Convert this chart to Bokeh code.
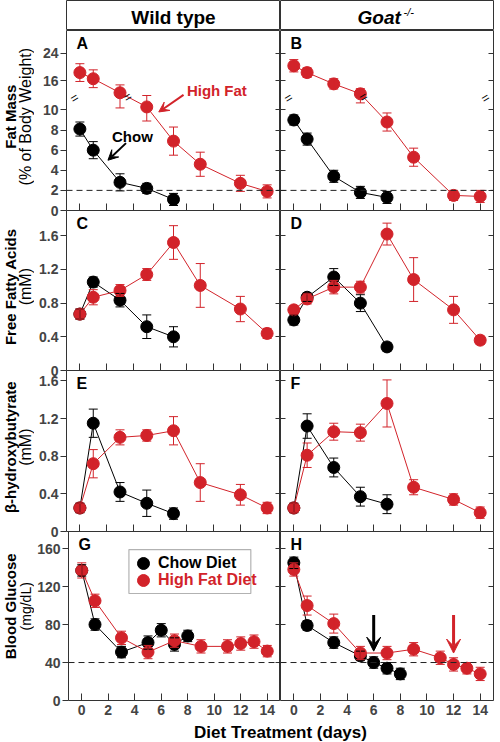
import numpy as np
from bokeh.plotting import figure
from bokeh.layouts import column, row
from bokeh.models import (Range1d, FixedTicker, LinearAxis, Whisker, TeeHead, ColumnDataSource,
                          Span, Label, Arrow, VeeHead, Legend, LegendItem, BoxAnnotation)
from bokeh.embed import file_html
from bokeh.resources import INLINE

FONT = "Liberation Sans"
RED = "#d2232a"
BLACK = "#000000"
FRAME = "#333333"

# ------------------------------------------------------------------ data
chow_days = [0, 1, 3, 5, 7]
hf_days = [0, 1, 3, 5, 7, 9, 12, 14]
glu_chow_days = [0, 1, 3, 5, 6, 7, 8]
glu_hf_days = [0, 1, 3, 5, 7, 9, 11, 12, 13, 14]

# Fat mass (% of body weight)
wt_fat_chow = [8.1, 6.0, 2.8, 2.2, 1.1]
wt_fat_chow_err = [0.7, 0.85, 0.85, 0.5, 0.6]
wt_fat_hf = [18.4, 16.6, 12.5, 10.3, 6.9, 4.6, 2.7, 1.9]
wt_fat_hf_err = [2.6, 2.6, 2.3, 1.4, 1.4, 1.2, 0.8, 0.65]
ko_fat_chow = [9.0, 7.1, 3.4, 1.8, 1.3]
ko_fat_chow_err = [0.5, 0.6, 0.6, 0.6, 0.6]
ko_fat_hf = [20.4, 18.4, 15.1, 12.2, 8.8, 5.3, 1.5, 1.4]
ko_fat_hf_err = [1.8, 1.4, 1.5, 1.5, 0.9, 0.9, 0.5, 0.6]

# Free fatty acids (mM)
wt_ffa_chow = [0.67, 1.05, 0.835, 0.52, 0.40]
wt_ffa_chow_err = [0.06, 0.06, 0.08, 0.14, 0.12]
wt_ffa_hf = [0.67, 0.87, 0.95, 1.14, 1.52, 1.01, 0.73, 0.44]
wt_ffa_hf_err = [0.06, 0.09, 0.07, 0.07, 0.20, 0.26, 0.15, 0.06]
ko_ffa_chow = [0.60, 0.87, 1.11, 0.80, 0.28]
ko_ffa_chow_err = [0.06, 0.05, 0.10, 0.10, 0.05]
ko_ffa_hf = [0.72, 0.85, 0.99, 0.99, 1.62, 1.08, 0.72, 0.36]
ko_ffa_hf_err = [0.05, 0.06, 0.08, 0.07, 0.13, 0.26, 0.16, 0.05]

# beta-hydroxybutyrate (mM)
wt_bhb_chow = [0.25, 1.15, 0.42, 0.30, 0.19]
wt_bhb_chow_err = [0.05, 0.15, 0.10, 0.14, 0.06]
wt_bhb_hf = [0.25, 0.72, 1.00, 1.02, 1.07, 0.52, 0.39, 0.25]
wt_bhb_hf_err = [0.05, 0.15, 0.08, 0.06, 0.15, 0.20, 0.11, 0.06]
ko_bhb_chow = [0.25, 1.12, 0.68, 0.37, 0.29]
ko_bhb_chow_err = [0.05, 0.13, 0.10, 0.10, 0.10]
ko_bhb_hf = [0.25, 0.81, 1.06, 1.05, 1.36, 0.47, 0.34, 0.20]
ko_bhb_hf_err = [0.05, 0.13, 0.09, 0.09, 0.25, 0.08, 0.06, 0.06]

# Blood glucose (mg/dL)
wt_glu_chow = [137, 80, 51, 61, 74, 59, 68]
wt_glu_chow_err = [6, 6, 6, 7, 7, 7, 6]
wt_glu_hf = [137, 105, 66, 51, 63, 57, 57, 60, 62, 52]
wt_glu_hf_err = [8, 7, 7, 7, 7, 7, 7, 7, 7, 6]
ko_glu_chow = [145, 79, 61, 47, 40, 34, 28]
ko_glu_chow_err = [6, 5, 6, 5, 6, 6, 6]
ko_glu_hf = [138, 100, 81, 50, 50, 54, 45, 38, 34, 28]
ko_glu_hf_err = [7, 10, 10, 7, 7, 7, 7, 7, 6, 7]

x_ticks = [0, 2, 4, 6, 8, 10, 12, 14]
fat_ticks = [0, 2, 4, 6, 8, 10, 16, 24]
ffa_ticks = [0, 0.4, 0.8, 1.2, 1.6]
bhb_ticks = [0, 0.4, 0.8, 1.2, 1.6]
glu_ticks = [0, 40, 80, 120, 160]
fat_tick_labels = ["0", "2", "4", "6", "8", "10", "16", "24"]
mm_tick_labels = ["0", "0.4", "0.8", "1.2", "1.6"]
glu_tick_labels = ["0", "40", "80", "120", "160"]

# broken fat-mass axis: values above the break are compressed
BRK = 11.3
SQZ = 0.34


def fat_tf(a):
    a = np.asarray(a, dtype=float)
    return np.round(np.where(a <= BRK, a, BRK + (a - BRK) * SQZ), 4)


def ident(a):
    return np.asarray(a, dtype=float)


# ------------------------------------------------------------------ geometry
LAB_W = 34            # column holding the y-axis titles
LEFT_W = 246          # left panel canvas (ticks + frame 214)
LEFT_BORDER = 32
RIGHT_W = 214         # right panel canvas (frame 213 + 1)
BOTTOM_AX = 22
OVER = 8              # rows overlap so the "0" tick label is not cut
X0, X1 = -1, 15


def txt(x, y, text, size, style="bold", color=BLACK, align="center", baseline="middle",
        angle=0, x_offset=0, y_offset=0):
    return Label(x=x, y=y, text=text, text_font=FONT, text_font_size=f"{size}px",
                 text_font_style=style, text_color=color, text_align=align,
                 text_baseline=baseline, angle=angle, x_offset=x_offset, y_offset=y_offset)


def blank(width, height, xr=None, yr=None, **kw):
    p = figure(width=width, height=height,
               x_range=Range1d(0, xr if xr else width), y_range=Range1d(0, yr if yr else height),
               output_backend="svg", toolbar_location=None,
               x_axis_location=None, y_axis_location=None, **kw)
    p.grid.visible = False
    p.background_fill_color = "white"
    p.border_fill_color = "white"
    return p


def series(p, days, vals, errs, color, tf):
    v = np.asarray(vals, dtype=float)
    e = np.asarray(errs, dtype=float)
    src = ColumnDataSource(dict(x=days, y=tf(v), upper=tf(v + e), lower=tf(v - e)))
    p.line("x", "y", source=src, line_color=color, line_width=1)
    w = Whisker(source=src, base="x", upper="upper", lower="lower", dimension="height",
                line_color=color, line_width=1, level="glyph",
                upper_head=TeeHead(size=9, line_color=color, line_width=1),
                lower_head=TeeHead(size=9, line_color=color, line_width=1))
    p.add_layout(w)
    return p.scatter("x", "y", source=src, size=12, marker="circle",
                     fill_color=color, line_color=color)


def unlabeled(ax, loc):
    ax.fixed_location = loc
    ax.major_label_text_color = None
    ax.major_label_standoff = 0


def panel(left, frame_h, yr, ticks, tick_labels, bottom=False):
    extra = BOTTOM_AX if bottom else OVER
    p = figure(width=LEFT_W if left else RIGHT_W, height=frame_h + extra,
               x_range=Range1d(X0, X1), y_range=Range1d(*yr),
               output_backend="svg", toolbar_location=None,
               min_border_left=LEFT_BORDER if left else 0,
               min_border_right=0 if left else 1,
               min_border_top=0, min_border_bottom=extra)
    p.grid.visible = False
    p.outline_line_color = FRAME
    p.outline_line_width = 1
    p.background_fill_color = "white"
    p.border_fill_alpha = 0

    xa = p.xaxis[0]
    xa.ticker = FixedTicker(ticks=x_ticks)
    xa.axis_line_color = None
    xa.major_tick_in = 7
    xa.major_tick_out = 0
    xa.major_tick_line_color = FRAME
    xa.minor_tick_line_color = None
    xa.major_label_text_font = FONT
    xa.major_label_text_font_style = "bold"
    xa.major_label_text_font_size = "14px"
    if bottom:
        xa.major_label_standoff = 4
    else:
        unlabeled(xa, yr[0])

    ya = p.yaxis[0]
    ya.ticker = FixedTicker(ticks=list(ticks))
    ya.major_label_overrides = {float(t): s for t, s in zip(ticks, tick_labels)}
    ya.axis_line_color = None
    ya.minor_tick_line_color = None
    ya.major_tick_line_color = FRAME
    ya.major_label_text_font = FONT
    ya.major_label_text_font_style = "bold"
    ya.major_label_text_font_size = "14px"
    if left:
        ya.major_tick_out = 6
        ya.major_tick_in = 0
        ya.major_label_standoff = 2
    else:
        ya.major_tick_out = 0
        ya.major_tick_in = 5
        unlabeled(ya, X0)

    ra = LinearAxis(ticker=FixedTicker(ticks=list(ticks)), axis_line_color=None,
                    major_tick_in=5, major_tick_out=0, minor_tick_line_color=None,
                    major_tick_line_color=FRAME)
    unlabeled(ra, X1)
    p.add_layout(ra, "right")
    return p


def title_col(frame_h, line1, line2, size2, bottom=False):
    h = frame_h + (BOTTOM_AX if bottom else OVER)
    p = blank(LAB_W, h, min_border=0)
    p.outline_line_color = None
    p.background_fill_alpha = 0
    p.border_fill_alpha = 0
    yc = h - frame_h / 2
    p.add_layout(txt(10, yc, line1, 15, angle=np.pi / 2))
    p.add_layout(txt(25, yc, line2, size2, style="normal", angle=np.pi / 2))
    return p


def letter(p, s):
    p.add_layout(txt(X0, p.y_range.end, s, 16, align="left", x_offset=10, y_offset=-13))


def brk_mark(p, x, y, dx=0):
    p.add_layout(txt(x, y, "=", 13, style="normal", angle=0.55, x_offset=dx))


def dash(p, y):
    p.add_layout(Span(location=y, dimension="width", line_color="#222222",
                      line_width=1, line_dash="6 4"))


def crossing(days, vals):
    u = fat_tf(vals)
    for i in range(len(u) - 1):
        if u[i] > BRK >= u[i + 1]:
            t = (u[i] - BRK) / (u[i] - u[i + 1])
            return days[i] + t * (days[i + 1] - days[i])
    return days[0]


# ------------------------------------------------------------------ header
hA = blank(LAB_W + LEFT_W, 30, xr=214, yr=30, min_border_left=LAB_W + LEFT_BORDER,
           min_border_right=0, min_border_top=0, min_border_bottom=0)
hA.outline_line_color = FRAME
hA.add_layout(txt(107, 13.5, "Wild type", 19))
hB = blank(RIGHT_W, 30, xr=213, yr=30, min_border_left=0, min_border_right=1,
           min_border_top=0, min_border_bottom=0)
hB.outline_line_color = FRAME
hB.add_layout(txt(77, 13.5, "Goat", 19, style="bold italic", align="left"))
hB.add_layout(txt(123, 18.5, "-/-", 11, style="italic", align="left"))

# ------------------------------------------------------------------ row 1 fat mass
FAT_YR = (0, 17.9)
fat_pos = fat_tf(fat_ticks)
tA = title_col(180, "Fat Mass", "(% of Body Weight)", 16)
pA = panel(True, 180, FAT_YR, fat_pos, fat_tick_labels)
pB = panel(False, 180, FAT_YR, fat_pos, fat_tick_labels)
for p in (pA, pB):
    dash(p, 2)
series(pA, chow_days, wt_fat_chow, wt_fat_chow_err, BLACK, fat_tf)
series(pA, hf_days, wt_fat_hf, wt_fat_hf_err, RED, fat_tf)
series(pB, chow_days, ko_fat_chow, ko_fat_chow_err, BLACK, fat_tf)
series(pB, hf_days, ko_fat_hf, ko_fat_hf_err, RED, fat_tf)
letter(pA, "A")
letter(pB, "B")
brk_mark(pA, X0, 11.2, 8)
brk_mark(pB, X0, 11.2, 8)
brk_mark(pB, X1, 11.2, -8)
brk_mark(pA, crossing(hf_days, wt_fat_hf), BRK)
brk_mark(pB, crossing(hf_days, ko_fat_hf), BRK)
pA.add_layout(txt(8.0, 11.9, "High Fat", 15, color=RED, align="left"))
pA.add_layout(Arrow(x_start=7.75, y_start=11.5, x_end=5.9, y_end=9.8, line_color=RED,
                    line_width=2, end=VeeHead(size=10, fill_color=RED, line_color=RED)))
pA.add_layout(txt(2.4, 7.4, "Chow", 15, align="left"))
pA.add_layout(Arrow(x_start=3.45, y_start=6.7, x_end=2.1, y_end=5.0, line_color=BLACK,
                    line_width=2, end=VeeHead(size=10, fill_color=BLACK, line_color=BLACK)))

# ------------------------------------------------------------------ row 2 FFA
tC = title_col(160, "Free Fatty Acids", "(mM)", 16)
pC = panel(True, 160, (0, 1.9), ffa_ticks, mm_tick_labels)
pD = panel(False, 160, (0, 1.9), ffa_ticks, mm_tick_labels)
series(pC, chow_days, wt_ffa_chow, wt_ffa_chow_err, BLACK, ident)
series(pC, hf_days, wt_ffa_hf, wt_ffa_hf_err, RED, ident)
series(pD, chow_days, ko_ffa_chow, ko_ffa_chow_err, BLACK, ident)
series(pD, hf_days, ko_ffa_hf, ko_ffa_hf_err, RED, ident)
letter(pC, "C")
letter(pD, "D")

# ------------------------------------------------------------------ row 3 BHB
tE = title_col(161, "β-hydroxybutyrate", "(mM)", 16)
pE = panel(True, 161, (0, 1.71), bhb_ticks, mm_tick_labels)
pF = panel(False, 161, (0, 1.71), bhb_ticks, mm_tick_labels)
series(pE, chow_days, wt_bhb_chow, wt_bhb_chow_err, BLACK, ident)
series(pE, hf_days, wt_bhb_hf, wt_bhb_hf_err, RED, ident)
series(pF, chow_days, ko_bhb_chow, ko_bhb_chow_err, BLACK, ident)
series(pF, hf_days, ko_bhb_hf, ko_bhb_hf_err, RED, ident)
letter(pE, "E")
letter(pF, "F")

# ------------------------------------------------------------------ row 4 glucose
tG = title_col(169, "Blood Glucose", "(mg/dL)", 14, bottom=True)
pG = panel(True, 169, (0, 178), glu_ticks, glu_tick_labels, bottom=True)
pH = panel(False, 169, (0, 178), glu_ticks, glu_tick_labels, bottom=True)
for p in (pG, pH):
    dash(p, 40)
pG.add_layout(BoxAnnotation(left=3.56, right=12.76, bottom=112.7, top=159,
                            fill_color="white", fill_alpha=1.0,
                            line_color=BLACK, line_width=1.2))
rc = series(pG, glu_chow_days, wt_glu_chow, wt_glu_chow_err, BLACK, ident)
rh = series(pG, glu_hf_days, wt_glu_hf, wt_glu_hf_err, RED, ident)
series(pH, glu_chow_days, ko_glu_chow, ko_glu_chow_err, BLACK, ident)
series(pH, glu_hf_days, ko_glu_hf, ko_glu_hf_err, RED, ident)
letter(pG, "G")
letter(pH, "H")

for lab, rend, loc, col in (("Chow Diet", rc, (60, 122), BLACK),
                            ("High Fat Diet", rh, (60, 105), RED)):
    pG.add_layout(Legend(items=[LegendItem(label=lab, renderers=[rend])], location=loc,
                         glyph_width=30, glyph_height=30, label_standoff=-5, padding=0,
                         spacing=0, margin=0, border_line_color=None,
                         background_fill_alpha=0, label_text_font=FONT,
                         label_text_font_style="bold", label_text_font_size="16px",
                         label_text_color=col))

pH.add_layout(Arrow(x_start=6, y_start=90, x_end=6, y_end=52, line_color=BLACK, line_width=3,
                    end=VeeHead(size=14, fill_color=BLACK, line_color=BLACK)))
pH.add_layout(Arrow(x_start=12, y_start=90, x_end=12, y_end=50, line_color=RED, line_width=3,
                    end=VeeHead(size=14, fill_color=RED, line_color=RED)))

# ------------------------------------------------------------------ x title
pt = blank(LAB_W + LEFT_W + RIGHT_W, 19, min_border=0)
pt.outline_line_color = None
pt.add_layout(txt(280, 9.5, "Diet Treatment (days)", 17))

layout = column(row(hA, hB),
                row(tA, pA, pB, margin=(0, 0, -OVER, 0)),
                row(tC, pC, pD, margin=(0, 0, -OVER, 0)),
                row(tE, pE, pF, margin=(0, 0, -OVER, 0)),
                row(tG, pG, pH),
                pt)

with open("out.html", "w") as f:
    f.write(file_html(layout, INLINE))
